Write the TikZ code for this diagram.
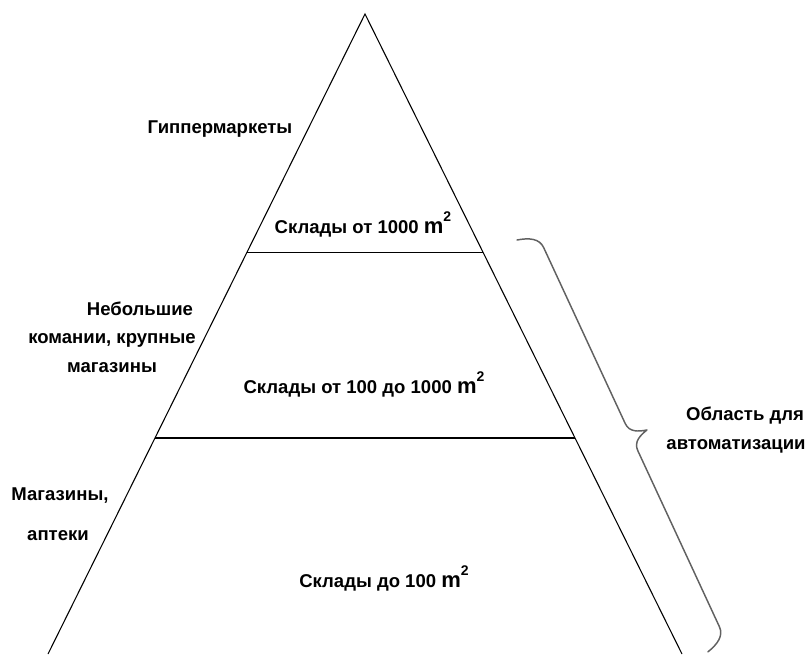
\documentclass[tikz,border=0pt]{standalone}
\usepackage{fontspec}
\setmainfont{Liberation Sans}
\usetikzlibrary{calc}
\newcommand\msqr{{\fontsize{16.5}{16}\selectfont m}\raisebox{0.62em}{\fontsize{10.5}{10}\selectfont 2}}
\begin{document}
\begin{tikzpicture}[x=0.75pt,y=-0.75pt,
  lbl/.style={font=\fontsize{13.9}{16}\selectfont\bfseries, inner sep=0pt, anchor=base},
  edge/.style={line width=0.8pt, black},
  bracestyle/.style={draw=black!62, line width=1.1pt, line cap=round, line join=round}]
\useasboundingbox (0,0) rectangle (807,654);
\coordinate (apex) at (365,14);
\coordinate (bl) at (48,654);
\coordinate (br) at (682,654);
\draw[edge] (bl) -- (apex) -- (br);
\coordinate (t1l) at ($(apex)!0.372!(bl)$);
\coordinate (t1r) at ($(apex)!0.372!(br)$);
\coordinate (t2l) at ($(apex)!0.6625!(bl)$);
\coordinate (t2r) at ($(apex)!0.6625!(br)$);
\draw[edge] (t1l) -- (t1r);
\draw[edge] (t2l) -- (t2r);
\coordinate (bA) at (517,240);
\begin{scope}[shift={(bA)}, x={(-65.13:0.75pt)}, y={(24.87:0.75pt)}]
  \draw[bracestyle] (0,0) .. controls (3,12) and (8,21) .. (18,21) -- (212,21)
    .. controls (222,21) and (225,30) .. (227,38)
    .. controls (229,30) and (232,21) .. (242,21) -- (436,21)
    .. controls (446,21) and (451,12) .. (454,0);
\end{scope}
\node[lbl] (hyper) at (220,133) {Гиппермаркеты};
\node[lbl] (s1) at (363,233) {Склады от 1000 \msqr};
\node[lbl] (small1) at (140,315) {Небольшие};
\node[lbl] (small2) at (112,343) {комании, крупные};
\node[lbl] (small3) at (112,372) {магазины};
\node[lbl] (s2) at (364,393) {Склады от 100 до 1000 \msqr};
\node[lbl] (shop1) at (60,500) {Магазины,};
\node[lbl] (shop2) at (58,540) {аптеки};
\node[lbl] (s3) at (384,587) {Склады до 100 \msqr};
\node[lbl] (auto1) at (745,420) {Область для};
\node[lbl] (auto2) at (736,449) {автоматизации};
\end{tikzpicture}
\end{document}
